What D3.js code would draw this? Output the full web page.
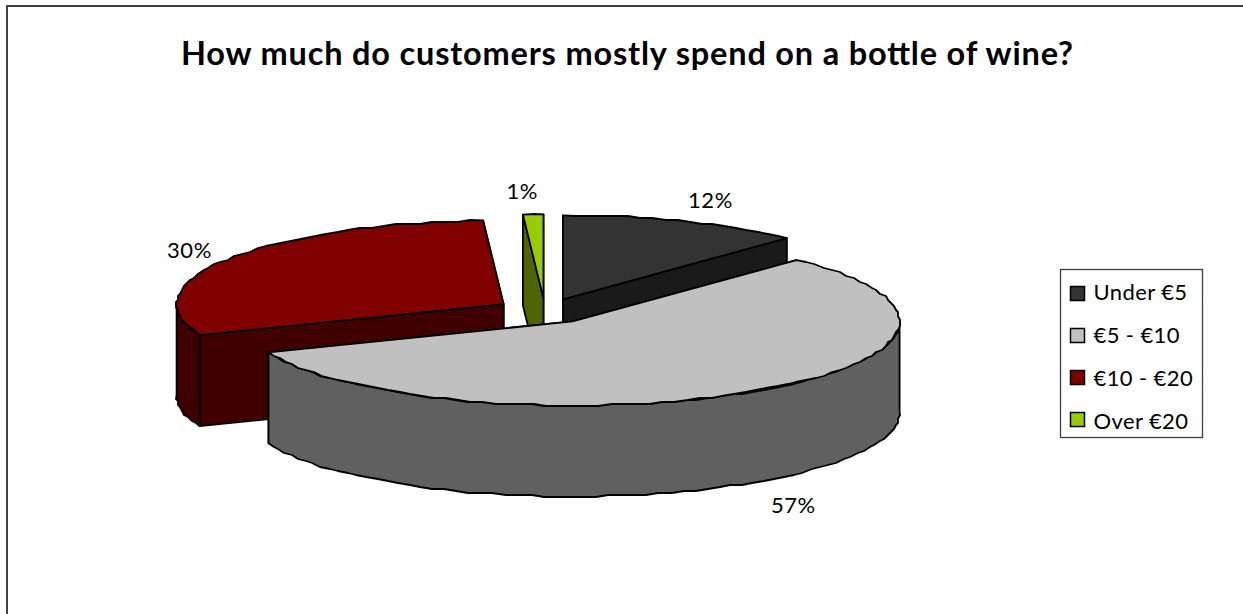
<!DOCTYPE html>
<html>
<head>
<meta charset="utf-8">
<style>
  html, body { margin: 0; padding: 0; background: #fff; }
  svg { display: block; }
  text { font-family: Lato, "Open Sans", sans-serif; fill: #000; }
</style>
<script src="https://cdn.jsdelivr.net/npm/d3@7/dist/d3.min.js"></script>
</head>
<body>
<script>
// Spend categories and their share of customers, in percent
const categories = ["Under €5", "€5 - €10", "€10 - €20", "Over €20"];
const shares = [12, 57, 30, 1];
const chartTitle = "How much do customers mostly spend on a bottle of wine?";

// Palette per category: lit top surface and shaded wall
const topColors = ["#333333", "#c0c0c0", "#800000", "#99cc00"];
const wallColors = ["#1a1a1a", "#606060", "#400000", "#4d6600"];

// Back-to-front paint order of the slices
const paintOrder = [0, 3, 2, 1];

const W = 1243, H = 614;
const center = { x: 545, y: 311 };
const radiusX = 327, radiusY = 84, depth = 91;
const explode = 0.15;
const edgeGrid = 2;
const labelOffsets = [[27, -19], [37, 117], [-38, -7], [-11, -21]];

const svg = d3.select("body").append("svg").attr("width", W).attr("height", H);

// Outer frame of the chart area
svg.append("rect")
  .attr("x", 7).attr("y", 6)
  .attr("width", W + 20).attr("height", H + 20)
  .attr("fill", "#fff").attr("stroke", "#404040").attr("stroke-width", 2);

svg.append("text")
  .attr("x", 181).attr("y", 65)
  .attr("font-size", 32.5).attr("font-weight", 700)
  .attr("textLength", 892).attr("lengthAdjust", "spacing")
  .text(chartTitle);

// Pie angles run clockwise from twelve o'clock
const arcs = d3.pie().sort(null).value(d => d)(shares);

// Project a pie angle onto the tilted ellipse
const project = (a, r = 1) => [r * radiusX * Math.sin(a), -r * radiusY * Math.cos(a)];

// Sample a rim between two angles; the coarse grid gives the flattened edge of the plot
function rim(apex, a0, a1) {
  const n = Math.max(1, Math.ceil((a1 - a0) / 0.04));
  return d3.range(n + 1).map(i => {
    const [dx, dy] = project(a0 + (a1 - a0) * i / n);
    const px = apex[0] + dx, py = apex[1] + dy;
    const onEnd = i === 0 || i === n;
    return onEnd ? [px, py]
      : [Math.round(px / edgeGrid) * edgeGrid, Math.round(py / edgeGrid) * edgeGrid];
  });
}

const line = d3.line();
const drop = p => [p[0], p[1] + depth];

const slices = svg.append("g")
  .attr("stroke", "#000").attr("stroke-width", 1.8).attr("stroke-linejoin", "round");

paintOrder.forEach(i => {
  const d = arcs[i];
  const mid = (d.startAngle + d.endAngle) / 2;
  const off = project(mid, explode);
  const apex = [center.x + off[0], center.y + off[1]];
  const g = slices.append("g");

  // Radial walls, farther one first
  const edges = [d.startAngle, d.endAngle].map(a => {
    const q = project(a);
    return [apex[0] + q[0], apex[1] + q[1]];
  }).sort((p, q) => p[1] - q[1]);
  edges.forEach(p => {
    g.append("path")
      .attr("d", line([apex, p, drop(p), drop(apex)]) + "Z")
      .attr("fill", wallColors[i]);
  });

  // Curved wall on the part of the rim that faces the viewer
  const w0 = Math.max(d.startAngle, Math.PI / 2);
  const w1 = Math.min(d.endAngle, 3 * Math.PI / 2);
  if (w1 > w0) {
    const upper = rim(apex, w0, w1);
    const lower = upper.map(drop).reverse();
    g.append("path")
      .attr("d", line(upper.concat(lower)) + "Z")
      .attr("fill", wallColors[i]);
  }

  // Top surface
  g.append("path")
    .attr("d", line([apex].concat(rim(apex, d.startAngle, d.endAngle))) + "Z")
    .attr("fill", topColors[i]);

  // Percentage label just outside the rim
  const out = project(mid);
  svg.append("text")
    .attr("class", "pct")
    .attr("x", apex[0] + out[0] + labelOffsets[i][0])
    .attr("y", apex[1] + out[1] + labelOffsets[i][1])
    .attr("text-anchor", "middle").attr("dominant-baseline", "middle")
    .attr("font-size", 22).attr("letter-spacing", 0.6)
    .text(shares[i] + "%");
});

// Legend
const legend = svg.append("g").attr("transform", "translate(1060.5,269.5)");
legend.append("rect")
  .attr("width", 142).attr("height", 168)
  .attr("fill", "#fff").attr("stroke", "#404040").attr("stroke-width", 1.3);

const swatchY = d3.scalePoint().domain(categories).range([24, 150]);
const textY = d3.scalePoint().domain(categories).range([25, 154]);

legend.selectAll("rect.swatch").data(categories).join("rect")
  .attr("class", "swatch")
  .attr("x", 10).attr("y", d => swatchY(d) - 7).attr("width", 14).attr("height", 14)
  .attr("fill", (d, i) => topColors[i])
  .attr("stroke", "#000").attr("stroke-width", 1.5);
legend.selectAll("text.entry").data(categories).join("text")
  .attr("class", "entry")
  .attr("x", 33).attr("y", d => textY(d))
  .attr("dominant-baseline", "middle")
  .attr("font-size", 22).attr("letter-spacing", 0.4)
  .text(d => d);
</script>
</body>
</html>
